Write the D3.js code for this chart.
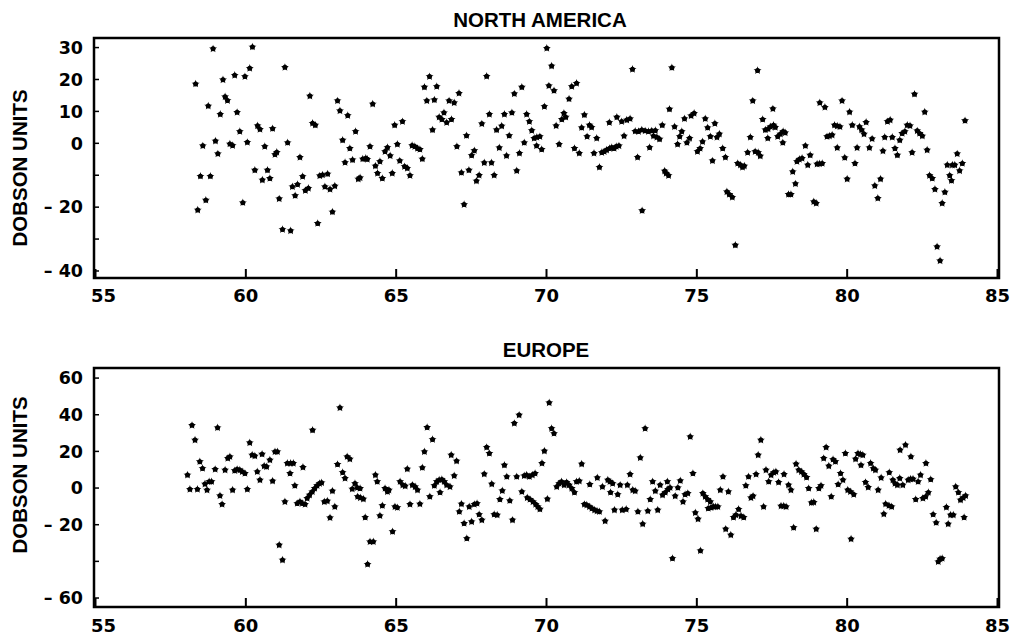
<!DOCTYPE html>
<html><head><meta charset="utf-8">
<script src="https://cdn.jsdelivr.net/npm/d3@7"></script>
<style>body{margin:0;background:#fff}svg{display:block}</style>
</head><body>
<script>
const xTicks = [55,60,65,70,75,80,85];
const naTicks = [-40,-30,-20,-10,0,10,20,30];
const naLabels = [30,20,10,0,-20,-40];
const euTicks = [-60,-40,-20,0,20,40,60];
const euLabels = [60,40,20,0,-20,-60];

const naYears = [58.33,58.40,58.49,58.57,58.67,58.75,58.82,58.91,58.99,59.07,59.15,59.24,59.31,59.39,59.47,59.56,59.63,59.71,59.80,59.90,59.97,60.05,60.13,60.22,60.30,60.39,60.47,60.55,60.63,60.72,60.80,60.89,60.97,61.03,61.11,
61.22,61.30,61.39,61.49,61.55,61.64,61.72,61.80,61.89,61.98,62.08,62.13,62.22,62.31,62.39,62.46,62.55,62.63,62.72,62.80,62.88,62.96,63.05,63.13,63.22,63.30,63.39,63.46,63.55,63.65,63.74,63.80,63.89,63.99,64.04,64.13,64.22,64.31,64.38,64.46,64.54,64.63,64.71,64.80,64.87,64.95,65.04,65.12,65.21,65.28,65.37,65.46,65.53,65.62,65.71,65.79,65.87,65.94,66.02,66.11,66.21,66.27,66.35,66.43,66.52,66.59,66.68,66.76,
66.84,66.93,67.02,67.09,67.17,67.26,67.34,67.42,67.51,67.60,67.67,67.76,67.85,67.93,68.01,68.10,68.17,68.26,68.34,68.43,68.51,68.60,68.67,68.76,68.85,68.93,69.01,69.10,69.18,69.26,69.34,69.43,69.51,69.59,69.67,69.68,69.78,69.84,69.93,70.01,70.08,70.17,70.25,70.32,70.42,70.51,70.58,70.64,70.75,70.84,70.93,71.00,71.09,71.17,71.26,71.35,71.43,71.50,71.58,71.67,71.76,71.84,71.92,72.00,72.09,72.10,72.17,72.25,72.34,72.32,72.41,72.50,72.58,
72.67,72.78,72.86,72.95,73.03,73.06,73.17,73.18,73.28,73.39,73.43,73.50,73.56,73.62,73.67,73.76,73.85,73.93,73.98,74.06,74.09,74.17,74.26,74.36,74.43,74.50,74.59,74.67,74.76,74.81,74.91,75.02,75.11,75.19,75.28,75.36,75.45,75.52,75.60,75.67,75.75,75.86,75.95,76.00,76.08,76.18,76.28,76.36,76.45,76.52,76.58,76.69,76.78,76.86,76.94,77.02,77.04,77.11,77.19,77.28,77.36,77.37,77.45,77.53,77.55,77.61,77.69,77.78,77.86,77.87,77.94,78.05,78.13,78.19,78.28,78.33,78.41,
78.50,78.61,78.69,78.77,78.89,78.97,79.00,79.08,79.09,79.17,79.26,79.33,79.41,79.50,79.58,79.67,79.67,79.76,79.83,79.92,80.00,80.08,80.17,80.26,80.33,80.41,80.48,80.56,80.63,80.74,80.83,80.92,81.02,81.11,81.19,81.25,81.34,81.43,81.50,81.59,81.67,81.75,81.83,81.92,82.00,82.09,82.16,82.24,82.33,82.41,82.50,82.58,82.66,82.74,82.83,82.92,82.99,83.09,83.16,83.25,83.33,83.41,83.47,83.50,83.58,83.66,83.74,83.83,83.92];
const naValues = [18.6,-20.9,-10.3,-0.8,-17.8,11.7,-10.3,29.6,0.7,-3.3,9.1,19.9,14.6,13.4,-0.2,-0.7,21.3,9.7,3.7,-18.6,20.9,0.3,23.5,30.2,-8.4,5.5,4.4,-11.5,-1.0,-8.4,-11.0,4.6,-3.5,-2.8,-17.4,
-27.0,23.8,0.2,-27.4,-13.6,-16.4,-12.9,-4.4,-10.4,-14.8,-14.1,14.8,6.3,5.7,-25.1,-10.2,-9.9,-13.6,-9.6,-14.4,-21.5,-13.4,13.3,10.2,1.0,-6.0,8.7,-1.6,-5.2,3.7,-11.2,-10.8,-4.9,-4.7,-5.0,-1.0,12.3,-7.1,-9.4,-5.7,-11.0,-2.6,-1.3,-3.9,-9.4,5.7,-0.3,-5.5,6.8,-7.3,-7.8,-10.1,-0.7,-1.0,-1.6,-1.9,-4.9,17.6,13.3,20.9,4.2,13.6,17.8,8.2,7.5,9.6,6.5,13.3,
7.5,12.7,-1.0,15.7,-9.2,-19.2,2.4,-8.4,-3.8,-2.3,-11.8,-10.0,6.1,-6.1,21.0,9.1,-6.1,-10.0,4.2,-1.4,5.4,9.1,-3.9,2.4,9.6,15.5,-8.6,-3.1,17.6,0.2,9.1,6.8,4.0,1.6,-0.8,1.9,2.1,-1.9,11.5,29.8,18.0,24.2,16.5,5.5,-0.3,7.5,9.4,8.2,13.9,17.8,-1.6,18.8,-3.1,4.9,8.9,2.1,5.7,5.0,-3.1,1.6,-7.5,-2.9,-2.6,-2.1,6.5,-1.6,-1.3,-1.6,8.2,-1.0,-0.8,6.8,2.3,
7.3,7.7,23.2,3.8,-4.4,3.7,4.2,-21.1,3.9,3.7,-1.3,3.9,2.3,4.0,1.9,1.3,5.7,-8.7,-9.4,-10.1,10.7,23.7,5.2,-0.3,2.1,3.7,7.7,0.2,1.6,8.6,9.4,-2.6,-1.6,0.5,7.7,4.9,2.1,-5.5,6.2,1.9,2.9,-1.6,-4.4,-15.2,-16.0,-16.9,-31.9,-6.3,-6.8,-7.5,-7.1,-2.9,1.9,13.3,-2.6,22.8,-2.9,-4.0,7.5,4.2,1.6,4.5,5.2,10.8,5.7,5.0,2.1,2.9,0.2,3.7,3.3,-16.0,-16.0,-8.9,-12.7,-5.7,-5.0,
-4.7,-0.8,-6.8,-3.7,-18.3,-18.8,-6.5,-6.4,12.7,-6.3,11.3,2.1,2.3,2.6,5.7,5.4,-1.4,5.2,13.3,-4.5,-11.2,9.8,5.7,-6.3,-1.4,5.2,4.2,2.9,6.6,-1.4,1.4,-13.3,-17.2,-11.2,-2.4,1.9,6.8,7.3,1.9,-1.6,-3.7,1.0,3.1,3.7,5.7,5.5,-2.9,15.4,3.9,3.1,2.3,9.8,-2.1,-10.1,-11.0,-14.4,-32.4,-36.8,-18.8,-15.3,-6.8,-10.1,-11.7,-6.8,-6.8,-3.3,-8.6,-6.3,7.1];

const euYears = [58.06,58.14,58.21,58.31,58.39,58.47,58.56,58.64,58.71,58.78,58.86,58.98,59.06,59.14,59.21,59.31,59.40,59.47,59.56,59.63,59.71,59.80,59.88,59.97,60.05,60.13,60.21,60.30,60.38,60.47,60.54,60.61,60.69,60.80,60.89,60.97,61.05,61.11,
61.22,61.30,61.38,61.47,61.49,61.58,61.63,61.71,61.80,61.88,61.90,61.97,62.04,62.12,62.21,62.22,62.29,62.37,62.45,62.52,62.61,62.71,62.80,62.88,62.96,63.05,63.13,63.22,63.30,63.37,63.46,63.54,63.63,63.71,63.72,63.80,63.81,63.91,63.97,64.05,64.13,64.24,64.31,64.37,64.46,64.54,64.63,64.71,64.76,64.88,64.96,65.04,65.13,65.22,65.30,65.37,65.46,65.54,65.63,65.71,65.79,65.87,65.94,66.03,66.12,66.21,66.27,66.35,66.43,66.46,66.52,66.60,66.68,66.79,66.83,
66.93,67.01,67.10,67.17,67.26,67.35,67.43,67.51,67.60,67.69,67.76,67.85,67.93,68.01,68.10,68.18,68.26,68.36,68.45,68.53,68.60,68.68,68.78,68.87,68.93,69.01,69.09,69.18,69.26,69.34,69.36,69.43,69.45,69.53,69.55,69.62,69.64,69.71,69.78,69.85,69.93,70.03,70.09,70.17,70.25,70.34,70.42,70.50,70.59,70.67,70.75,70.84,70.93,71.00,71.09,71.17,71.26,71.34,71.43,71.44,71.51,71.60,71.68,71.69,71.76,71.86,71.95,72.04,72.11,72.13,72.20,72.26,72.37,72.45,72.52,
72.65,72.69,72.78,72.87,72.95,73.04,73.12,73.20,73.28,73.37,73.45,73.53,73.62,73.70,73.78,73.86,73.95,74.02,74.04,74.11,74.19,74.28,74.37,74.45,74.54,74.61,74.70,74.78,74.87,74.95,75.04,75.12,75.20,75.28,75.36,75.38,75.45,75.47,75.55,75.62,75.70,75.78,75.87,75.96,76.05,76.13,76.22,76.30,76.39,76.47,76.56,76.63,76.72,76.80,76.87,76.97,77.04,77.13,77.22,77.30,77.39,77.47,77.56,77.63,77.72,77.80,77.89,77.90,77.97,78.05,78.13,78.22,78.30,78.39,
78.48,78.56,78.65,78.72,78.81,78.89,78.97,79.06,79.13,79.22,79.30,79.39,79.47,79.53,79.61,79.70,79.78,79.86,79.94,80.02,80.11,80.13,80.22,80.28,80.36,80.44,80.46,80.52,80.61,80.70,80.78,80.87,80.94,81.03,81.13,81.22,81.28,81.39,81.40,81.48,81.52,81.59,81.67,81.75,81.76,81.85,81.94,82.03,82.11,82.12,82.19,82.28,82.36,82.44,82.52,82.61,82.62,82.70,82.78,82.86,82.96,83.03,83.09,83.16,83.30,83.36,83.44,83.53,83.61,83.70,83.77,83.86,83.89,83.94];
const euValues = [7.1,-0.7,34.2,26.2,-0.7,14.4,10.7,2.2,-1.1,3.5,3.5,10.2,32.9,-4.2,-8.9,9.8,16.2,17.1,-1.1,9.5,10.2,9.8,8.9,8.0,-0.7,24.7,18.0,17.5,8.9,4.4,18.5,12.0,11.6,15.3,3.8,19.8,19.8,-31.1,
-39.3,-7.5,13.5,8.0,13.5,13.5,1.3,-8.4,-7.5,-8.4,11.3,-8.9,-5.6,-3.8,-2.0,31.6,-0.2,1.3,2.5,2.9,-7.5,-7.1,-16.2,-1.6,-10.2,12.9,43.8,8.5,5.3,17.1,15.8,-0.5,2.5,0.2,-4.7,-0.2,-5.3,-6.0,-16.0,-41.6,-29.3,-29.3,7.1,3.5,-15.1,-9.6,-0.2,-2.0,-1.1,-23.8,-10.2,-10.7,3.5,1.6,1.1,10.4,-8.9,1.6,0.7,-1.1,-8.7,11.1,19.8,33.1,-4.7,26.5,1.3,3.5,4.4,-2.4,4.7,3.5,1.6,0.7,18.0,
6.7,14.7,-12.9,-8.7,-19.3,-27.5,-10.2,-18.4,-8.9,-8.4,-14.4,-17.5,7.6,22.2,18.9,2.2,-14.4,-14.7,-6.2,-1.5,12.5,6.2,-6.9,-17.5,35.3,6.2,39.8,-2.0,6.7,7.1,-5.3,6.2,-6.2,7.1,-7.5,8.0,-8.9,-10.2,-11.5,13.5,20.2,-6.0,46.5,32.5,29.8,0.7,2.5,3.5,1.6,3.1,1.6,-0.2,-2.4,3.5,3.8,13.1,-8.9,-9.3,-10.2,2.0,-11.1,-12.0,-12.5,5.6,-12.9,0.7,-18.0,4.4,3.5,-2.4,2.5,-12.0,-3.5,1.6,-12.0,
-11.6,1.6,7.5,-1.1,-1.6,-12.9,16.5,-19.6,32.5,-12.5,-6.2,3.5,-1.6,-12.0,1.6,-3.8,-2.4,3.5,-0.7,0.2,-38.4,-4.4,0.2,4.0,-7.5,-3.5,-2.9,28.0,8.0,-13.5,-16.9,-34.2,-2.9,-4.7,-6.2,-11.1,-7.5,-10.7,-10.2,-10.2,-10.2,-1.1,6.2,-22.4,-2.0,-25.6,-16.0,-14.7,-11.6,-15.3,-16.0,1.3,6.2,-5.3,-4.4,7.5,18.0,26.2,-10.2,9.8,3.5,7.1,8.5,8.9,3.1,-9.8,-9.8,7.5,-10.2,1.6,-1.1,-21.6,13.1,9.8,
8.9,7.5,5.8,-0.2,-8.0,-7.8,-22.4,-0.2,1.3,16.2,22.2,12.0,-4.7,15.6,14.4,2.0,8.0,4.4,18.9,-1.1,-2.0,-27.8,-3.5,15.8,18.9,18.4,12.5,18.0,3.1,0.4,13.5,10.7,9.8,-1.1,5.6,-14.2,-8.7,-9.6,8.5,-10.2,4.4,2.5,1.6,5.3,20.7,1.6,23.5,4.4,4.9,17.1,4.9,-6.2,3.5,7.1,-5.6,-4.7,13.5,-2.4,4.7,-14.4,-18.9,-40.2,-38.7,-38.4,-10.5,-19.6,-14.7,-14.7,0.7,-2.4,-6.5,-5.3,-16.0,-4.2];

const W = 1010, H = 638;
const svg = d3.select("body").append("svg").attr("width", W).attr("height", H);
const FONT_NUM = "'DejaVu Sans', sans-serif";
const FONT_TXT = "'Liberation Sans', Arial, sans-serif";

const x = d3.scaleLinear().domain([54.95, 85.05]).range([94, 999]);

const panels = [
  {title: "NORTH AMERICA", titleX: 540, titleY: 27, top: 38, bottom: 278, yDomain: [-42.2, 33.0],
   ticks: naTicks, labels: naLabels, years: naYears, values: naValues, xLabY: 302, yTitleY: 168},
  {title: "EUROPE", titleX: 546, titleY: 357, top: 368, bottom: 607, yDomain: [-64.9, 65.5],
   ticks: euTicks, labels: euLabels, years: euYears, values: euValues, xLabY: 632, yTitleY: 475}
];

const starPath = d3.symbol().type(d3.symbolStar).size(20)();

panels.forEach(p => {
  const y = d3.scaleLinear().domain(p.yDomain).range([p.bottom, p.top]);
  const g = svg.append("g");

  g.append("text").attr("x", p.titleX).attr("y", p.titleY).attr("text-anchor", "middle")
    .attr("font-family", FONT_TXT).attr("font-weight", "bold").attr("font-size", 20.5)
    .text(p.title);

  g.append("text").attr("transform", `translate(27,${p.yTitleY}) rotate(-90)`)
    .attr("text-anchor", "middle").attr("font-family", FONT_TXT).attr("font-weight", "bold")
    .attr("font-size", 20.5).text("DOBSON UNITS");

  g.selectAll(".yt").data(p.ticks).enter().append("line")
    .attr("x1", 94).attr("x2", 99).attr("y1", d => y(d)).attr("y2", d => y(d))
    .attr("stroke", "#000").attr("stroke-width", 1.5);
  g.selectAll(".yl").data(p.labels).enter().append("text")
    .attr("x", 83).attr("y", d => y(d)).attr("dy", "0.36em").attr("text-anchor", "end")
    .attr("font-family", FONT_NUM).attr("font-weight", "bold").attr("font-size", 17.5)
    .text(d => d < 0 ? "\u2013 " + Math.abs(d) : String(d));

  g.selectAll(".xt").data(xTicks).enter().append("line")
    .attr("x1", d => x(d)).attr("x2", d => x(d)).attr("y1", p.bottom).attr("y2", p.bottom - 9)
    .attr("stroke", "#000").attr("stroke-width", 2);
  g.selectAll(".xl").data(xTicks).enter().append("text")
    .attr("x", d => d === 55 ? x(d) + 8 : x(d)).attr("y", p.xLabY).attr("text-anchor", "middle")
    .attr("font-family", FONT_NUM).attr("font-weight", "bold").attr("font-size", 18)
    .text(d => d);

  g.append("rect").attr("x", x.range()[0]).attr("y", p.top)
    .attr("width", x.range()[1] - x.range()[0]).attr("height", p.bottom - p.top)
    .attr("fill", "none").attr("stroke", "#000").attr("stroke-width", 2.5);

  const pts = p.years.map((yr, i) => [yr, p.values[i]]);
  const pg = g.append("g");
  pg.selectAll("circle").data(pts).enter().append("circle")
    .attr("cx", d => x(d[0])).attr("cy", d => y(d[1])).attr("r", 2.5).attr("fill", "#000");
  pg.selectAll("path").data(pts).enter().append("path")
    .attr("d", starPath).attr("transform", d => `translate(${x(d[0])},${y(d[1])})`)
    .attr("fill", "#000");
});
</script>
</body></html>
